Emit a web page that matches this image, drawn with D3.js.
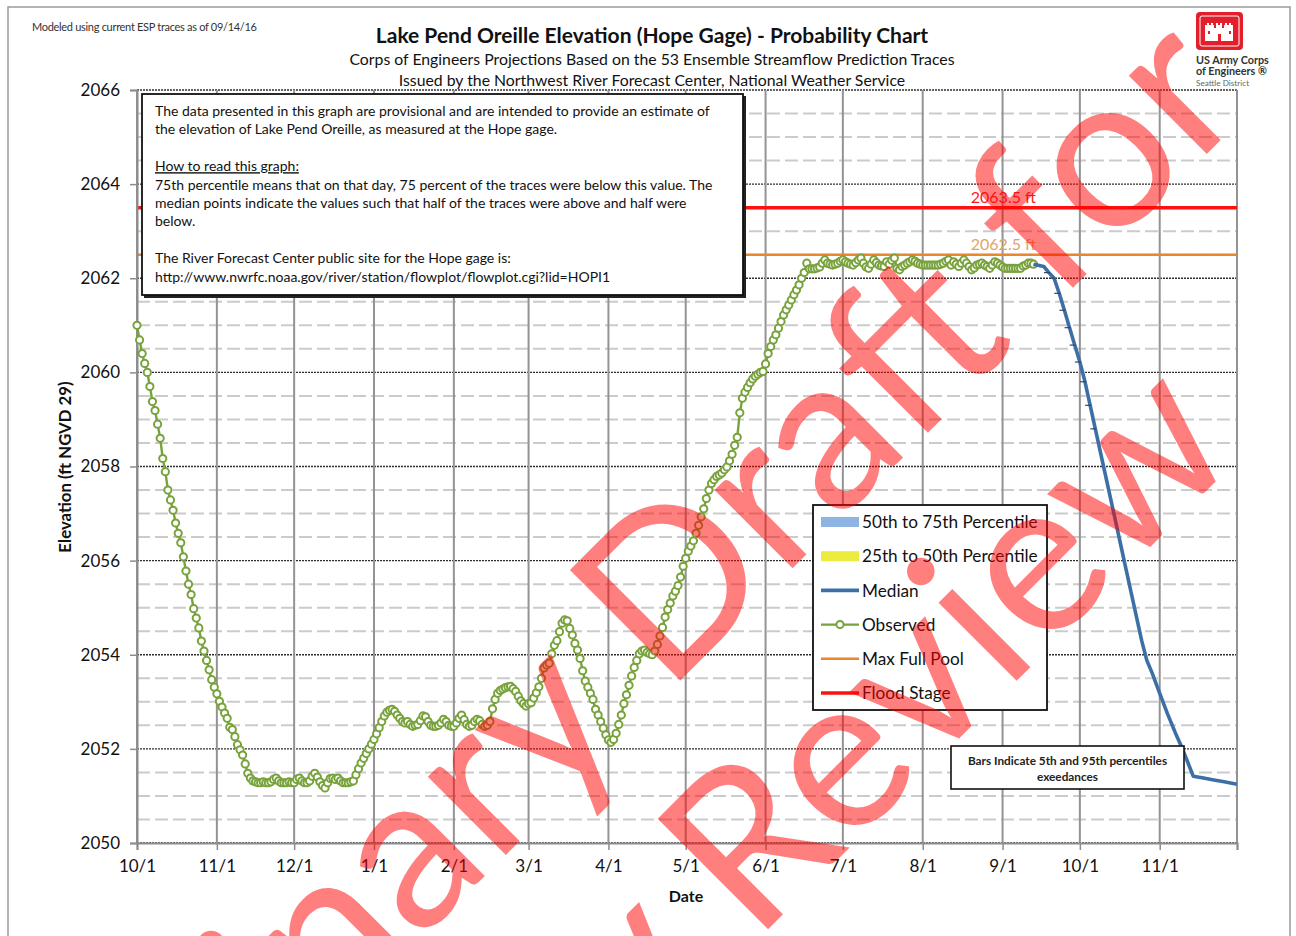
<!DOCTYPE html>
<html><head><meta charset="utf-8">
<script src="https://cdn.jsdelivr.net/npm/d3@7"></script>
<style>
body{margin:0;background:#fff}
svg{display:block}
text{font-family:Lato,"Open Sans",sans-serif}
</style>
</head><body>
<svg id="chart" width="1296" height="936"></svg>
<script>
// ---------------- DATA ----------------
const obsStart = "2015-10-01";
const observed = [
2061.00,2060.69,2060.40,2060.19,2060.00,2059.70,2059.38,2059.19,2058.90,2058.60,
2058.17,2057.89,2057.50,2057.29,2057.07,2056.80,2056.58,2056.38,2056.08,2055.78,
2055.50,2055.28,2054.98,2054.78,2054.57,2054.29,2054.08,2053.88,2053.68,2053.47,
2053.31,2053.17,2053.01,2052.89,2052.76,2052.65,2052.46,2052.41,2052.26,2052.09,
2051.98,2051.87,2051.68,2051.48,2051.38,2051.32,
2051.30,2051.28,2051.28,2051.30,2051.28,2051.28,2051.30,2051.35,2051.38,2051.32,
2051.28,2051.28,2051.28,2051.30,2051.28,2051.28,2051.35,2051.38,2051.32,2051.28,
2051.28,2051.32,2051.42,2051.48,2051.40,2051.30,2051.22,2051.17,2051.28,2051.37,
2051.38,2051.35,2051.38,2051.32,2051.28,2051.28,2051.28,2051.30,2051.32,
2051.45,2051.58,2051.70,2051.80,2051.90,2052.00,2052.10,2052.20,2052.32,2052.45,
2052.58,2052.70,2052.78,2052.82,2052.84,2052.80,2052.72,2052.65,2052.58,2052.55,
2052.58,2052.52,2052.48,
2052.50,2052.52,2052.60,2052.70,2052.68,2052.58,2052.50,2052.48,2052.48,2052.50,
2052.55,2052.63,2052.58,2052.50,2052.48,2052.48,2052.55,2052.65,2052.72,2052.62,
2052.52,2052.48,2052.50,2052.58,2052.63,2052.60,2052.52,2052.48,2052.50,2052.58,
2052.85,
2053.05,2053.18,2053.24,2053.27,2053.30,2053.32,2053.33,2053.28,2053.22,2053.12,
2053.02,2052.96,2052.91,2052.96,2052.98,2053.08,2053.19,2053.32,2053.50,2053.72,
2053.78,2053.82,2054.02,2054.20,2054.30,2054.49,2054.67,2054.74,2054.72,2054.56,
2054.42,2054.24,2054.10,2053.92,2053.66,2053.44,2053.31,2053.18,2053.05,2052.84,
2052.72,2052.58,2052.44,2052.30,2052.19,2052.14,2052.20,2052.33,2052.52,2052.72,
2052.96,2053.15,2053.35,2053.55,2053.73,2053.88,2054.02,2054.08,2054.10,2054.05,
2054.02,2054.00,2054.08,2054.22,2054.40,2054.58,2054.80,2054.96,2055.10,2055.25,
2055.35,2055.47,2055.65,2055.88,2056.05,2056.20,2056.31,2056.42,2056.58,2056.75,
2056.93,2057.10,2057.32,2057.50,2057.64,2057.72,2057.79,2057.82,2057.86,2057.93,
2057.99,2058.12,2058.26,2058.45,2058.62,2059.14,2059.45,2059.58,2059.68,2059.78,
2059.86,2059.92,2059.96,2060.00,2060.02,2060.18,2060.40,2060.55,2060.69,2060.80,
2060.94,2061.08,2061.22,2061.33,2061.43,2061.54,2061.65,2061.75,2061.86,2062.00,
2062.12,2062.32,2062.20,2062.20,2062.20,2062.22,2062.24,2062.32,2062.39,
2062.32,2062.30,2062.28,2062.30,2062.32,2062.36,2062.39,2062.35,2062.32,2062.30,
2062.28,2062.33,2062.39,2062.43,2062.32,2062.24,2062.21,2062.30,2062.39,2062.33,
2062.28,2062.26,2062.25,2062.35,2062.30,2062.38,2062.43,2062.21,2062.18,2062.25,
2062.28,2062.32,2062.35,2062.39,2062.36,2062.32,2062.30,2062.28,2062.28,2062.28,
2062.28,2062.28,2062.28,2062.28,2062.30,2062.32,2062.36,2062.39,2062.28,2062.35,
2062.30,2062.25,2062.32,2062.39,2062.32,2062.25,2062.18,2062.22,2062.28,2062.30,
2062.32,2062.28,2062.25,2062.21,2062.28,2062.35,2062.32,2062.28,2062.24,2062.21,
2062.21,2062.21,2062.21,2062.21,2062.21,2062.21,2062.26,2062.28,2062.32,2062.32,2062.30
];
const medianDates = ["2016-09-13","2016-09-17","2016-09-19","2016-09-21","2016-09-23","2016-09-25",
"2016-09-27","2016-09-29","2016-10-01","2016-10-03","2016-10-05","2016-10-07","2016-10-09",
"2016-10-11","2016-10-13","2016-10-15","2016-10-17","2016-10-19","2016-10-21","2016-10-23",
"2016-10-25","2016-10-27","2016-10-29","2016-11-01","2016-11-04","2016-11-07","2016-11-10",
"2016-11-12","2016-11-14","2016-11-18","2016-11-22","2016-11-26","2016-12-01"];
const medianValues = [2062.30,2062.25,2062.12,2062.00,2061.68,2061.32,
2060.95,2060.58,2060.22,2059.80,2059.30,2058.80,2058.30,
2057.80,2057.30,2056.80,2056.30,2055.80,2055.30,2054.80,
2054.30,2053.88,2053.62,2053.18,2052.75,2052.35,2051.98,
2051.70,2051.42,2051.38,2051.34,2051.30,2051.25];
const barsFrom = "2016-09-18", barsTo = "2016-10-08";

const monthTicks = ["2015-10-01","2015-11-01","2015-12-01","2016-01-01","2016-02-01","2016-03-01",
"2016-04-01","2016-05-01","2016-06-01","2016-07-01","2016-08-01","2016-09-01","2016-10-01",
"2016-11-01","2016-12-01"];
const monthLabels = ["10/1","11/1","12/1","1/1","2/1","3/1","4/1","5/1","6/1","7/1","8/1","9/1","10/1","11/1",""];
const yMajor = [2050,2052,2054,2056,2058,2060,2062,2064,2066];
const yDomain = [2050,2066];
const floodStage = 2063.5, maxFullPool = 2062.5;
const floodLabel = "2063.5 ft", poolLabel = "2062.5 ft";

const legendItems = ["50th to 75th Percentile","25th to 50th Percentile","Median","Observed","Max Full Pool","Flood Stage"];
const legendKinds = ["band","band","line","marker","line","line"];
const legendColors = ["#8db4e2","#ecec3e","#3d6fa7","#78a23c","#e8872f","#ff1010"];

const titleText = "Lake Pend Oreille Elevation (Hope Gage) - Probability Chart";
const subtitle1 = "Corps of Engineers Projections Based on the 53 Ensemble Streamflow Prediction Traces";
const subtitle2 = "Issued by the Northwest River Forecast Center, National Weather Service";
const noteTop = "Modeled using current ESP traces as of 09/14/16";
const infoLines = [
 "The data presented in this graph are provisional and are intended to provide an estimate of",
 "the elevation of Lake Pend Oreille, as measured at the Hope gage.",
 "",
 "How to read this graph:",
 "75th percentile means that on that day, 75 percent of the traces were below this value.  The",
 "median points indicate the values such that half of  the traces were above and half were",
 "below.",
 "",
 "The River Forecast Center public site for the Hope gage is:",
 "http://www.nwrfc.noaa.gov/river/station/flowplot/flowplot.cgi?lid=HOPI1"
];
const barsNote = ["Bars Indicate 5th and 95th percentiles","exeedances"];
const watermark = ["Preliminary Draft for","Agency Review"];

// ---------------- CHART ----------------
const parse = d3.utcParse("%Y-%m-%d");
const svg = d3.select("#chart");
const M = {l:137, r:1237, t:90, b:843};
const x = d3.scaleUtc().domain([parse(monthTicks[0]), parse(monthTicks[monthTicks.length-1])]).range([M.l, M.r]);
const y = d3.scaleLinear().domain(yDomain).range([M.b, M.t]);

const start = parse(obsStart);
const obsData = observed.map((v,i)=>({d:d3.utcDay.offset(start,i), v}));
const medData = medianDates.map((s,i)=>({d:parse(s), v:medianValues[i]}));

// outer frame
svg.append("rect").attr("x",8).attr("y",7).attr("width",1282).attr("height",960)
  .attr("fill","none").attr("stroke","#9a9a9a").attr("stroke-width",1.5);

// minor gridlines
const minor = d3.range(yDomain[0], yDomain[1]+0.001, 0.5).filter(v=>v%2!==0);
svg.append("g").selectAll("line").data(minor).join("line")
  .attr("x1",M.l).attr("x2",M.r).attr("y1",d=>y(d)).attr("y2",d=>y(d))
  .attr("stroke","#cbcbcb").attr("stroke-width",2).attr("stroke-dasharray","13,5");
// major gridlines
svg.append("g").selectAll("line").data(yMajor).join("line")
  .attr("x1",M.l).attr("x2",M.r).attr("y1",d=>y(d)).attr("y2",d=>y(d))
  .attr("stroke","#2e2e2e").attr("stroke-width",1.4).attr("stroke-dasharray","2,1");
// vertical gridlines
svg.append("g").selectAll("line").data(monthTicks).join("line")
  .attr("x1",d=>x(parse(d))).attr("x2",d=>x(parse(d))).attr("y1",M.t).attr("y2",M.b)
  .attr("stroke","#939393").attr("stroke-width",2);

// reference lines
svg.append("line").attr("x1",M.l).attr("x2",M.r).attr("y1",y(floodStage)).attr("y2",y(floodStage))
  .attr("stroke","#ff1010").attr("stroke-width",3.5);
svg.append("line").attr("x1",M.l).attr("x2",M.r).attr("y1",y(maxFullPool)).attr("y2",y(maxFullPool))
  .attr("stroke","#e8872f").attr("stroke-width",2.5);
svg.append("text").attr("x",1036).attr("y",y(floodStage)-5).attr("text-anchor","end")
  .attr("font-size",16).attr("fill","#ff1a1a").text(floodLabel);
svg.append("text").attr("x",1036).attr("y",y(maxFullPool)-5).attr("text-anchor","end")
  .attr("font-size",16).attr("fill","#e2a466").text(poolLabel);

// axes
const xAxis = d3.axisBottom(x).tickValues(monthTicks.map(parse)).tickFormat((d,i)=>monthLabels[i]).tickSize(7).tickPadding(10);
const gx = svg.append("g").attr("transform",`translate(0,${M.b})`).call(xAxis);
gx.select(".domain").attr("stroke","#8c8c8c").attr("stroke-width",2);
gx.selectAll(".tick line").attr("stroke","#8c8c8c").attr("stroke-width",1.5);
gx.selectAll("text").attr("font-size",17).attr("fill","#111").attr("font-family","Lato");
const yAxis = d3.axisLeft(y).tickValues(yMajor).tickFormat(d3.format("d")).tickSize(7).tickPadding(10);
const gy = svg.append("g").attr("transform",`translate(${M.l},0)`).call(yAxis);
gy.select(".domain").attr("stroke","#8c8c8c").attr("stroke-width",2);
gy.selectAll(".tick line").attr("stroke","#8c8c8c").attr("stroke-width",1.5);
gy.selectAll("text").attr("font-size",17).attr("fill","#111").attr("font-family","Lato");

svg.append("text").attr("x",686).attr("y",902).attr("text-anchor","middle")
  .attr("font-size",16).attr("font-weight","bold").attr("fill","#111").text("Date");
svg.append("text").attr("transform","translate(71,467) rotate(-90)").attr("text-anchor","middle")
  .attr("font-size",16.8).attr("font-weight","bold").attr("fill","#111").text("Elevation (ft NGVD 29)");

// titles
svg.append("text").attr("x",32).attr("y",31).attr("font-size",11).attr("fill","#333")
  .attr("letter-spacing",-0.3).text(noteTop);
svg.append("text").attr("x",652).attr("y",43).attr("text-anchor","middle")
  .attr("font-size",21).attr("font-weight","bold").attr("fill","#111").text(titleText);
svg.append("text").attr("x",652).attr("y",65).attr("text-anchor","middle")
  .attr("font-size",15.8).attr("fill","#111").text(subtitle1);
svg.append("text").attr("x",652).attr("y",86).attr("text-anchor","middle")
  .attr("font-size",15.8).attr("fill","#111").text(subtitle2);

// logo
const logo = svg.append("g").attr("transform","translate(1196,12)");
logo.append("rect").attr("width",47).attr("height",38).attr("rx",4).attr("fill","#e21f2b");
logo.append("rect").attr("x",4).attr("y",4).attr("width",39).attr("height",30).attr("rx",2).attr("fill","none").attr("stroke","#fff").attr("stroke-width",1);
const castle = "M9,29 V13 h2 v-2 h2 v2 h2 v-2 h2 v2 h1 v3 h2 v-5 h2 v2 h2 v-2 h2 v5 h2 v-3 h1 v-2 h2 v2 h2 v-2 h2 v2 h2 V29 Z";
logo.append("path").attr("d",castle).attr("fill","#fff");
logo.append("rect").attr("x",22).attr("y",22).attr("width",3).attr("height",7).attr("fill","#e21f2b");
logo.append("rect").attr("x",12).attr("y",19).attr("width",2).attr("height",3).attr("fill","#e21f2b");
logo.append("rect").attr("x",33).attr("y",19).attr("width",2).attr("height",3).attr("fill","#e21f2b");
const logoFont = "Liberation Sans, Arial, sans-serif";
svg.append("text").attr("x",1196).attr("y",64).attr("font-family",logoFont).attr("font-size",10.8).attr("font-weight","bold").attr("fill","#333").text("US Army Corps");
svg.append("text").attr("x",1196).attr("y",75).attr("font-family",logoFont).attr("font-size",10.8).attr("font-weight","bold").attr("fill","#333").text("of Engineers ®");
svg.append("text").attr("x",1196).attr("y",86).attr("font-family",logoFont).attr("font-size",8.2).attr("fill","#666").text("Seattle District");

// info box
const ib = svg.append("g");
ib.append("rect").attr("x",144).attr("y",96).attr("width",602).attr("height",202).attr("fill","#222");
ib.append("rect").attr("x",142).attr("y",94).attr("width",601).attr("height",201).attr("fill","#fff").attr("stroke","#111").attr("stroke-width",1.8);
ib.selectAll("text.info").data(infoLines).join("text").attr("class","info")
  .attr("x",155).attr("y",(d,i)=>116+i*18.4).attr("font-size",14).attr("fill","#111")
  .attr("text-decoration",(d,i)=>i===3?"underline":null).text(d=>d);

// observed series
const line = d3.line().x(d=>x(d.d)).y(d=>y(d.v));
const green = legendColors[3], blue = legendColors[2];
svg.append("path").datum(obsData).attr("d",line).attr("fill","none").attr("stroke",green).attr("stroke-width",2.4);
svg.append("g").selectAll("circle").data(obsData).join("circle")
  .attr("cx",d=>x(d.d)).attr("cy",d=>y(d.v)).attr("r",3.6)
  .attr("fill","#fff").attr("stroke",green).attr("stroke-width",2);

// median series
svg.append("path").datum(medData).attr("d",line).attr("fill","none").attr("stroke",blue).attr("stroke-width",3.6).attr("stroke-linejoin","round");
const bf = parse(barsFrom), bt = parse(barsTo);
svg.append("g").selectAll("line").data(medData.filter(d=>d.d>=bf && d.d<=bt)).join("line")
  .attr("x1",d=>x(d.d)-5).attr("x2",d=>x(d.d)+1).attr("y1",d=>y(d.v)).attr("y2",d=>y(d.v))
  .attr("stroke","#36465a").attr("stroke-width",1.2);

// legend
const lg = svg.append("g").attr("transform","translate(813,505)");
lg.append("rect").attr("width",234).attr("height",205).attr("fill","#fff").attr("stroke","#111").attr("stroke-width",1.8);
const li = lg.selectAll("g.li").data(legendItems).join("g").attr("class","li")
  .attr("transform",(d,i)=>`translate(0,${17+i*34.2})`);
li.each(function(d,i){
  const g = d3.select(this);
  const k = legendKinds[i], c = legendColors[i];
  if(k==="band") g.append("rect").attr("x",8).attr("y",-5).attr("width",38).attr("height",10).attr("fill",c);
  else {
    g.append("line").attr("x1",8).attr("x2",46).attr("y1",0).attr("y2",0).attr("stroke",c)
      .attr("stroke-width",i===2?3.6:(i===5?3.5:(i===3?2.4:2.5)));
    if(k==="marker") g.append("circle").attr("cx",27).attr("cy",0).attr("r",3.6).attr("fill","#fff").attr("stroke",c).attr("stroke-width",2);
  }
  g.append("text").attr("x",49).attr("y",0).attr("dy","0.36em").attr("font-size",17.2).attr("fill","#111").text(d);
});

// bars note
const bn = svg.append("g").attr("transform","translate(951,746)");
bn.append("rect").attr("width",233).attr("height",43).attr("fill","#fff").attr("stroke","#111").attr("stroke-width",1.6);
bn.selectAll("text").data(barsNote).join("text").attr("x",116.5).attr("y",(d,i)=>19+i*16)
  .attr("text-anchor","middle").attr("font-size",11.8).attr("font-weight","bold").attr("fill","#222").text(d=>d);

// watermark
const wm = svg.append("g").attr("transform","translate(645,884) rotate(-45)");
wm.selectAll("text").data(watermark).join("text")
  .attr("x",0).attr("y",(d,i)=>i===0?-119:119).attr("text-anchor","middle")
  .attr("font-family","Liberation Sans, Arial, sans-serif").attr("font-size",218)
  .attr("fill","rgba(255,0,0,0.5)").text(d=>d);
</script>
</body></html>
